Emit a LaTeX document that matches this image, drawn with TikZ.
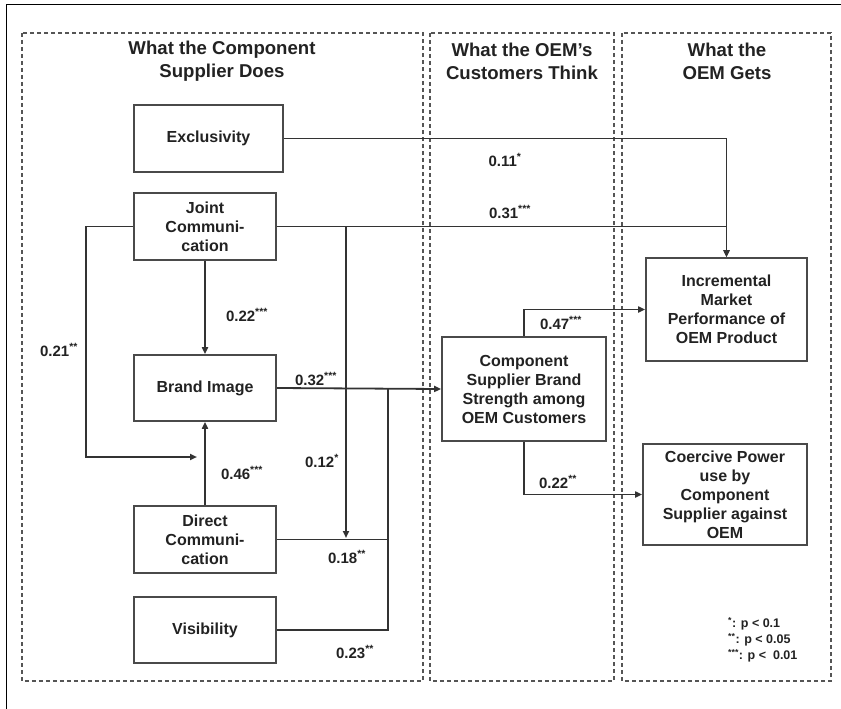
\documentclass[tikz,border=0pt]{standalone}
\usepackage{fontspec}
\setmainfont{Liberation Sans}
\usetikzlibrary{arrows.meta}
\definecolor{ink}{HTML}{222222}
\definecolor{linec}{HTML}{333333}
\definecolor{boxc}{HTML}{4A4A4A}
\definecolor{dashc}{HTML}{555555}
\tikzset{
  panel/.style={draw=dashc, line width=1.2pt, dash pattern=on 4pt off 3pt},
  box/.style={draw=boxc, line width=1.7pt, align=center, text=ink,
    font=\fontsize{16}{19}\selectfont\bfseries, inner sep=2pt},
  title/.style={align=center, text=ink, font=\fontsize{18.6}{23}\selectfont\bfseries},
  lbl/.style={text=ink, font=\fontsize{15}{18}\selectfont\bfseries, inner sep=1pt},
  legend/.style={text=ink, font=\fontsize{12.5}{16}\selectfont\bfseries, align=left, inner sep=0pt},
  conn/.style={draw=linec, line width=1.8pt},
  arr/.style={conn, -{Triangle[length=7pt,width=6pt]}},
}
\newcommand{\sig}[1]{\textsuperscript{#1}}
\begin{document}
\begin{tikzpicture}[x=1pt,y=-1pt]
\useasboundingbox (0,0) rectangle (841,709);
% outer frame (left and top edges)
\draw[line width=1.2pt, black] (6.5,709) -- (6.5,4.5) -- (841,4.5);
% panels
\draw[panel] (22,33) rectangle (423,681);
\draw[panel] (430,33) rectangle (614,681);
\draw[panel] (622,33) rectangle (831,681);
\node[title] (t1) at (222,61) {What the Component\\Supplier Does};
\node[title] (t2) at (522,61) {What the OEM’s\\Customers Think};
\node[title] (t3) at (727,61) {What the\\OEM Gets};
% boxes
\node[box, minimum width=149pt, minimum height=67pt] (excl) at (208.5,138.5) {Exclusivity};
\node[box, minimum width=142pt, minimum height=67pt] (joint) at (205,226.5) {Joint\\Communi-\\cation};
\node[box, minimum width=142pt, minimum height=66pt] (brand) at (205,388) {Brand Image};
\node[box, minimum width=142pt, minimum height=67pt] (direct) at (205,539.5) {Direct\\Communi-\\cation};
\node[box, minimum width=142pt, minimum height=66pt] (vis) at (205,630) {Visibility};
\node[box, minimum width=164pt, minimum height=104pt] (csb) at (524,389) {Component\\Supplier Brand\\Strength among\\OEM Customers};
\node[box, minimum width=161pt, minimum height=103pt] (imp) at (726.5,309.5) {Incremental\\Market\\Performance of\\OEM Product};
\node[box, minimum width=164pt, minimum height=101pt] (cp) at (725,494.5) {Coercive Power\\use by\\Component\\Supplier against\\OEM};
% coordinates
\coordinate (jl) at (86,457);
\coordinate (je) at (197,457);
\coordinate (jx) at (346,226.5);
\coordinate (jd) at (346,538);
\coordinate (mx) at (388,388);
% connectors
\draw[arr] (excl.east) -| (imp.north);
\draw[arr] (joint.east) -| (imp.north);
\draw[arr] (joint.west) -| (jl) -- (je);
\draw[arr] (joint.south) -- (brand.north);
\draw[arr] (direct.north) -- (brand.south);
\draw[arr] (jx) -- (jd);
\draw[conn] (direct.east) -| (mx);
\draw[conn] (vis.east) -| (mx);
\draw[arr] (brand.east) -- (csb.west);
\draw[arr] (csb.north) |- (imp.west);
\draw[arr] (csb.south) |- (cp.west);
% labels
\node[lbl] (l11) at (505,160) {0.11\sig{*}};
\node[lbl] (l31) at (510,212) {0.31\sig{***}};
\node[lbl] (l22a) at (247,315) {0.22\sig{***}};
\node[lbl] (l21) at (59,350) {0.21\sig{**}};
\node[lbl] (l32) at (316,379) {0.32\sig{***}};
\node[lbl] (l12) at (322,461) {0.12\sig{*}};
\node[lbl] (l46) at (242,473) {0.46\sig{***}};
\node[lbl] (l18) at (347,557) {0.18\sig{**}};
\node[lbl] (l23) at (355,652) {0.23\sig{**}};
\node[lbl] (l47) at (561,323) {0.47\sig{***}};
\node[lbl] (l22b) at (558,482) {0.22\sig{**}};
% legend
\node[legend, anchor=north west] (leg) at (728,617) {\sig{*}: p < 0.1\\\sig{**}: p < 0.05\\\sig{***}: p <\ \ 0.01};
\end{tikzpicture}
\end{document}
